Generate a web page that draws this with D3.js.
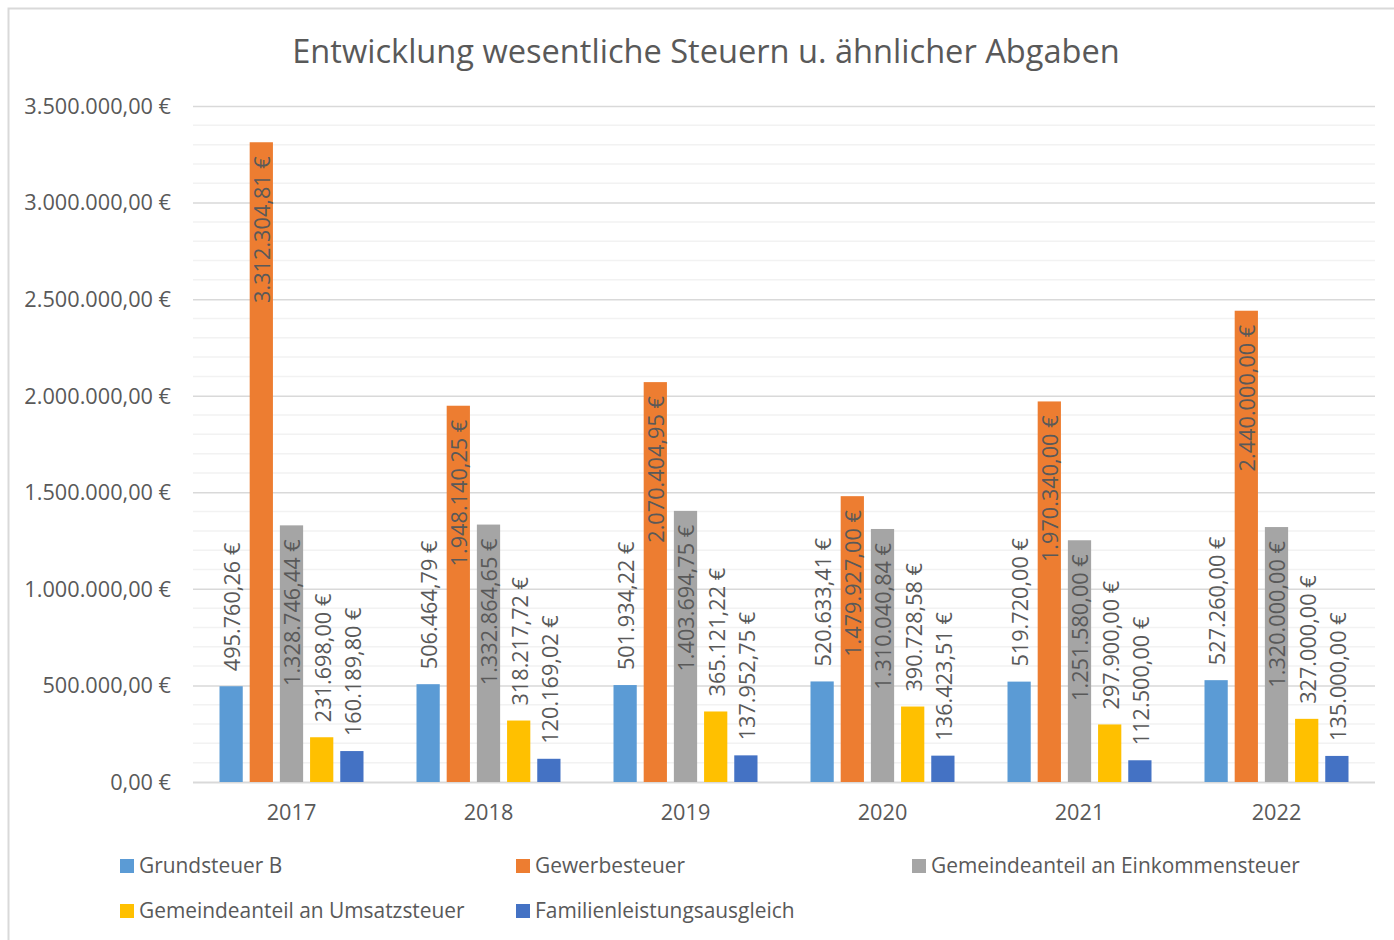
<!DOCTYPE html>
<html>
<head>
<meta charset="utf-8">
<script src="https://cdn.jsdelivr.net/npm/d3@7"></script>
<style>
    body { margin: 0; background: #fff; }
    svg text { font-family: "Open Sans", "Noto Sans", sans-serif; fill: #595959; }
</style>
</head>
<body>
<div id="chart"></div>
<script>
// chart data
const years = ["2017", "2018", "2019", "2020", "2021", "2022"];
const seriesNames = ["Grundsteuer B", "Gewerbesteuer", "Gemeindeanteil an Einkommensteuer",
    "Gemeindeanteil an Umsatzsteuer", "Familienleistungsausgleich"];
const grundsteuer = [495760.26, 506464.79, 501934.22, 520633.41, 519720.00, 527260.00];
const gewerbesteuer = [3312304.81, 1948140.25, 2070404.95, 1479927.00, 1970340.00, 2440000.00];
const einkommensteuer = [1328746.44, 1332864.65, 1403694.75, 1310040.84, 1251580.00, 1320000.00];
const umsatzsteuer = [231698.00, 318217.72, 365121.22, 390728.58, 297900.00, 327000.00];
const familienleistung = [160189.80, 120169.02, 137952.75, 136423.51, 112500.00, 135000.00];
const yTicks = [0, 500000, 1000000, 1500000, 2000000, 2500000, 3000000, 3500000];

const colors = ["#5B9BD5", "#ED7D31", "#A5A5A5", "#FFC000", "#4472C4"];
// which series have their labels inside the bar end
const insideLabel = [false, true, true, false, false];

const allSeries = [grundsteuer, gewerbesteuer, einkommensteuer, umsatzsteuer, familienleistung];

// german number format
const de = d3.formatLocale({ decimal: ",", thousands: ".", grouping: [3], currency: ["", " €"] });
const fmt = de.format(",.2f");
function euro(v) { return fmt(v) + " €"; }

const width = 1394, height = 940;
const svg = d3.select("#chart").append("svg")
    .attr("width", width)
    .attr("height", height);

// chart frame
svg.append("rect")
    .attr("x", 8.5).attr("y", 8.5)
    .attr("width", 1500).attr("height", 1000)
    .attr("fill", "none")
    .attr("stroke", "#d9d9d9")
    .attr("stroke-width", 2);

// title
svg.append("text")
    .attr("x", 706).attr("y", 63)
    .attr("text-anchor", "middle")
    .style("font-size", "32.6px")
    .text("Entwicklung wesentliche Steuern u. ähnlicher Abgaben");

const plot = { left: 193, right: 1375, top: 106, bottom: 782 };

let y = d3.scaleLinear().domain([0, 3500000]).range([plot.bottom, plot.top]);
let x0 = d3.scaleBand().domain(years).range([plot.left, plot.right]).padding(0);
let x1 = d3.scaleBand().domain(d3.range(seriesNames.length))
    .range([26.5, x0.bandwidth() - 26.5]).paddingInner(0.23).paddingOuter(0);

// minor gridlines
svg.append("g")
    .selectAll("line")
    .data(d3.range(100000, 3500000, 100000).filter(function (d) { return d % 500000 !== 0; }))
    .join("line")
    .attr("x1", plot.left).attr("x2", plot.right)
    .attr("y1", function (d) { return y(d); })
    .attr("y2", function (d) { return y(d); })
    .attr("stroke", "#f2f2f2")
    .attr("stroke-width", 1.5);

// major gridlines + y axis labels
let yAxis = svg.append("g")
    .attr("transform", "translate(" + plot.left + ",0)")
    .call(d3.axisLeft(y).tickValues(yTicks).tickSize(-(plot.right - plot.left)).tickPadding(22)
        .tickFormat(euro));
yAxis.select(".domain").remove();
yAxis.selectAll(".tick line")
    .attr("stroke", "#d9d9d9")
    .attr("stroke-width", function (d) { return d === 0 ? 2 : 1.5; });
yAxis.selectAll(".tick text")
    .style("font-size", "21.7px")
    .attr("dy", "0.34em");

// x axis labels
let xAxis = svg.append("g")
    .attr("transform", "translate(0," + plot.bottom + ")")
    .call(d3.axisBottom(x0).tickSize(0).tickPadding(23));
xAxis.select(".domain").remove();
xAxis.selectAll(".tick text").style("font-size", "21.7px").attr("dy", "0.71em");

// bars
let groups = svg.append("g")
    .selectAll("g")
    .data(years)
    .join("g")
    .attr("transform", function (d) { return "translate(" + x0(d) + ",0)"; });

groups.selectAll("rect")
    .data(function (d, i) {
        return allSeries.map(function (s, k) { return { k: k, value: s[i] }; });
    })
    .join("rect")
    .attr("x", function (d) { return x1(d.k); })
    .attr("y", function (d) { return y(d.value); })
    .attr("width", x1.bandwidth())
    .attr("height", function (d) { return y(0) - y(d.value); })
    .attr("fill", function (d) { return colors[d.k]; });

// data labels, rotated
groups.selectAll("text.label")
    .data(function (d, i) {
        return allSeries.map(function (s, k) { return { k: k, value: s[i] }; });
    })
    .join("text")
    .attr("class", "label")
    .attr("transform", function (d) {
        let cx = x1(d.k) + x1.bandwidth() / 2 + 1;
        let cy = insideLabel[d.k] ? y(d.value) + 14 : y(d.value) - 15;
        return "translate(" + cx + "," + cy + ") rotate(-90)";
    })
    .attr("text-anchor", function (d) { return insideLabel[d.k] ? "end" : "start"; })
    .attr("dy", "0.36em")
    .style("font-size", "21.7px")
    .text(function (d) { return euro(d.value); });

// legend
const legendPos = [[120, 866], [516, 866], [912, 866], [120, 911], [516, 911]];
let legend = svg.append("g")
    .selectAll("g")
    .data(seriesNames)
    .join("g")
    .attr("transform", function (d, i) { return "translate(" + legendPos[i][0] + "," + legendPos[i][1] + ")"; });
legend.append("rect")
    .attr("x", 0).attr("y", -7)
    .attr("width", 14).attr("height", 14)
    .attr("fill", function (d, i) { return colors[i]; });
legend.append("text")
    .attr("x", 19)
    .attr("dy", "0.35em")
    .style("font-size", "20.9px")
    .text(function (d) { return d; });
</script>
</body>
</html>
